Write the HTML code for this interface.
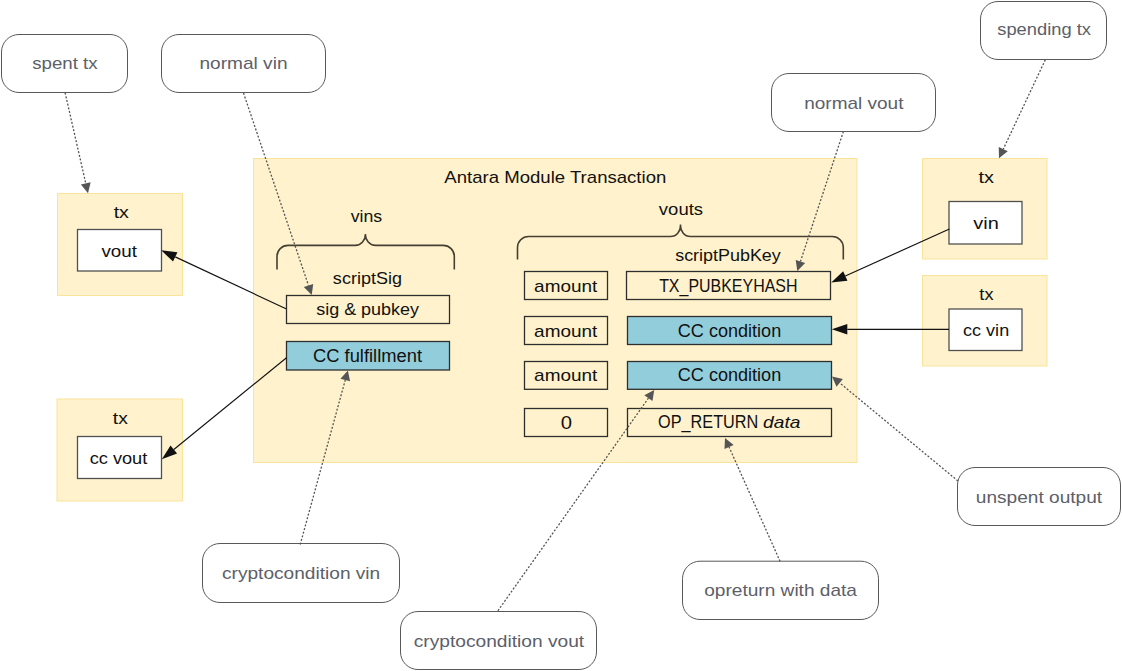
<!DOCTYPE html>
<html><head><meta charset="utf-8"><style>
html,body{margin:0;padding:0;background:#fff;}
svg{display:block;font-family:"Liberation Sans",sans-serif;}
</style></head><body>
<svg width="1122" height="671" viewBox="0 0 1122 671">
<rect width="1122" height="671" fill="#fff"/>
<rect x="1.5" y="34.5" width="126.0" height="58.0" rx="17.5" fill="#fff" stroke="#595959" stroke-width="1"/>
<text x="32.17" y="68.7" textLength="65.43" lengthAdjust="spacingAndGlyphs" fill="#5c6069" font-size="17" >spent tx</text>
<rect x="161.5" y="34.5" width="164.0" height="58.0" rx="17.5" fill="#fff" stroke="#595959" stroke-width="1"/>
<text x="199.49" y="69.4" textLength="88.04" lengthAdjust="spacingAndGlyphs" fill="#5c6069" font-size="17" >normal vin</text>
<rect x="771.5" y="73.5" width="164.0" height="58.0" rx="17.5" fill="#fff" stroke="#595959" stroke-width="1"/>
<text x="804.20" y="108.8" textLength="99.25" lengthAdjust="spacingAndGlyphs" fill="#5c6069" font-size="17" >normal vout</text>
<rect x="980.5" y="1.5" width="126.0" height="58.0" rx="17.5" fill="#fff" stroke="#595959" stroke-width="1"/>
<text x="997.28" y="35.4" textLength="93.64" lengthAdjust="spacingAndGlyphs" fill="#5c6069" font-size="17" >spending tx</text>
<rect x="957.5" y="467.5" width="163.0" height="58.0" rx="17.5" fill="#fff" stroke="#595959" stroke-width="1"/>
<text x="975.80" y="502.7" textLength="126.30" lengthAdjust="spacingAndGlyphs" fill="#5c6069" font-size="17" >unspent output</text>
<rect x="682.5" y="561.2" width="196.0" height="58.299999999999955" rx="17.5" fill="#fff" stroke="#595959" stroke-width="1"/>
<text x="704.24" y="595.5" textLength="152.75" lengthAdjust="spacingAndGlyphs" fill="#5c6069" font-size="17" >opreturn with data</text>
<rect x="202.5" y="543.5" width="197.0" height="59.0" rx="17.5" fill="#fff" stroke="#595959" stroke-width="1"/>
<text x="222.04" y="578.6" textLength="158.21" lengthAdjust="spacingAndGlyphs" fill="#5c6069" font-size="17" >cryptocondition vin</text>
<rect x="400.5" y="611.5" width="196.0" height="58.0" rx="17.5" fill="#fff" stroke="#595959" stroke-width="1"/>
<text x="413.73" y="646.9" textLength="170.43" lengthAdjust="spacingAndGlyphs" fill="#5c6069" font-size="17" >cryptocondition vout</text>
<rect x="253.5" y="158.5" width="603.5" height="304.0" rx="0" fill="#FFF2CC" stroke="#F9E49C" stroke-width="1"/>
<rect x="57.5" y="193.5" width="125.0" height="102.0" rx="0" fill="#FFF2CC" stroke="#F9E49C" stroke-width="1"/>
<rect x="57" y="399" width="125.5" height="102" rx="0" fill="#FFF2CC" stroke="#F9E49C" stroke-width="1"/>
<rect x="922.5" y="158.5" width="124.5" height="100.5" rx="0" fill="#FFF2CC" stroke="#F9E49C" stroke-width="1"/>
<rect x="922.5" y="275.5" width="124.5" height="90.5" rx="0" fill="#FFF2CC" stroke="#F9E49C" stroke-width="1"/>
<rect x="77.5" y="229.5" width="84.0" height="41.5" rx="0" fill="#fff" stroke="#505050" stroke-width="1.3"/>
<rect x="77.5" y="436.5" width="84.0" height="42.0" rx="0" fill="#fff" stroke="#505050" stroke-width="1.3"/>
<rect x="949" y="201.5" width="73" height="42.5" rx="0" fill="#fff" stroke="#505050" stroke-width="1.3"/>
<rect x="949" y="309" width="73" height="41.5" rx="0" fill="#fff" stroke="#505050" stroke-width="1.3"/>
<rect x="524.5" y="271.5" width="83.0" height="28.0" rx="0" fill="#FFF2CC" stroke="#2e2e2e" stroke-width="1.3"/>
<rect x="524.5" y="316.5" width="83.0" height="28.0" rx="0" fill="#FFF2CC" stroke="#2e2e2e" stroke-width="1.3"/>
<rect x="524.5" y="361.5" width="83.0" height="27.80000000000001" rx="0" fill="#FFF2CC" stroke="#2e2e2e" stroke-width="1.3"/>
<rect x="524.5" y="408.5" width="83.0" height="28.0" rx="0" fill="#FFF2CC" stroke="#2e2e2e" stroke-width="1.3"/>
<rect x="626.5" y="271.5" width="204.0" height="28.0" rx="0" fill="#FFF2CC" stroke="#2e2e2e" stroke-width="1.3"/>
<rect x="627.5" y="316.5" width="204.0" height="28.0" rx="0" fill="#92CDDC" stroke="#2e2e2e" stroke-width="1.3"/>
<rect x="627.5" y="361.5" width="204.0" height="27.80000000000001" rx="0" fill="#92CDDC" stroke="#2e2e2e" stroke-width="1.3"/>
<rect x="627.5" y="408.5" width="204.0" height="28.0" rx="0" fill="#FFF2CC" stroke="#2e2e2e" stroke-width="1.3"/>
<rect x="286.5" y="295.5" width="163.0" height="28.0" rx="0" fill="#FFF2CC" stroke="#2e2e2e" stroke-width="1.3"/>
<rect x="286.5" y="341.5" width="163.0" height="28.5" rx="0" fill="#92CDDC" stroke="#2e2e2e" stroke-width="1.3"/>
<path d="M277 269.6 V256.4 A11 11 0 0 1 288 245.4 H355.4 A10 11 0 0 0 365.4 234 A10 11 0 0 0 375.4 245.4 H443.3 A11 11 0 0 1 454.3 256.4 V269.6" fill="none" stroke="#463f33" stroke-width="1.6"/>
<path d="M517.5 259.5 V247.5 A11 11 0 0 1 528.5 236.5 H670.5 A10 11 0 0 0 680.5 224.5 A10 11 0 0 0 690.5 236.5 H832.3 A11 11 0 0 1 843.3 247.5 V259.5" fill="none" stroke="#463f33" stroke-width="1.6"/>
<text x="444.39" y="183" textLength="221.92" lengthAdjust="spacingAndGlyphs" fill="#111" font-size="17" >Antara Module Transaction</text>
<text x="350.70" y="221.7" textLength="31.53" lengthAdjust="spacingAndGlyphs" fill="#111" font-size="17" >vins</text>
<text x="658.89" y="215.3" textLength="44.17" lengthAdjust="spacingAndGlyphs" fill="#111" font-size="17" >vouts</text>
<text x="675.19" y="260.5" textLength="105.62" lengthAdjust="spacingAndGlyphs" fill="#111" font-size="17" >scriptPubKey</text>
<text x="332.89" y="284.1" textLength="69.05" lengthAdjust="spacingAndGlyphs" fill="#111" font-size="17" >scriptSig</text>
<text x="316.19" y="315.2" textLength="102.81" lengthAdjust="spacingAndGlyphs" fill="#111" font-size="17" >sig &amp; pubkey</text>
<text x="312.96" y="361.8" textLength="109.10" lengthAdjust="spacingAndGlyphs" fill="#111" font-size="17.5" >CC fulfillment</text>
<text x="534.14" y="291.7" textLength="63.24" lengthAdjust="spacingAndGlyphs" fill="#111" font-size="17" >amount</text>
<text x="534.14" y="336.5" textLength="63.24" lengthAdjust="spacingAndGlyphs" fill="#111" font-size="17" >amount</text>
<text x="534.14" y="381.3" textLength="63.24" lengthAdjust="spacingAndGlyphs" fill="#111" font-size="17" >amount</text>
<text x="560.79" y="429" textLength="11.26" lengthAdjust="spacingAndGlyphs" fill="#111" font-size="17.5" >0</text>
<text x="659.14" y="292" textLength="138.36" lengthAdjust="spacingAndGlyphs" fill="#111" font-size="17.5" >TX_PUBKEYHASH</text>
<text x="677.77" y="337.2" textLength="103.46" lengthAdjust="spacingAndGlyphs" fill="#111" font-size="17.5" >CC condition</text>
<text x="677.77" y="381.2" textLength="103.46" lengthAdjust="spacingAndGlyphs" fill="#111" font-size="17.5" >CC condition</text>
<text x="658.06" y="428.1" textLength="100.27" lengthAdjust="spacingAndGlyphs" fill="#111" font-size="17.5" >OP_RETURN</text>
<text x="763.14" y="428.1" textLength="37.28" lengthAdjust="spacingAndGlyphs" fill="#111" font-size="17" font-style="italic">data</text>
<text x="113.66" y="217.8" textLength="15.28" lengthAdjust="spacingAndGlyphs" fill="#111" font-size="17" >tx</text>
<text x="101.49" y="256.5" textLength="35.49" lengthAdjust="spacingAndGlyphs" fill="#111" font-size="17" >vout</text>
<text x="112.87" y="423.7" textLength="14.96" lengthAdjust="spacingAndGlyphs" fill="#111" font-size="17" >tx</text>
<text x="89.67" y="463.5" textLength="57.57" lengthAdjust="spacingAndGlyphs" fill="#111" font-size="17" >cc vout</text>
<text x="978.46" y="182.7" textLength="15.48" lengthAdjust="spacingAndGlyphs" fill="#111" font-size="17" >tx</text>
<text x="973.39" y="228.7" textLength="25.55" lengthAdjust="spacingAndGlyphs" fill="#111" font-size="17" >vin</text>
<text x="979.39" y="299.8" textLength="14.13" lengthAdjust="spacingAndGlyphs" fill="#111" font-size="17" >tx</text>
<text x="963.08" y="335.5" textLength="46.09" lengthAdjust="spacingAndGlyphs" fill="#111" font-size="17" >cc vin</text>
<line x1="65.1" y1="92.7" x2="85.78" y2="183.45" stroke="#555" stroke-width="1.3" stroke-dasharray="2 1.75"/>
<polygon points="88,193.2 80.90,184.56 90.65,182.34" fill="#555"/>
<line x1="243.5" y1="93" x2="308.50" y2="285.53" stroke="#555" stroke-width="1.3" stroke-dasharray="2 1.75"/>
<polygon points="311.7,295 303.76,287.12 313.24,283.93" fill="#555"/>
<line x1="843.4" y1="131.5" x2="800.44" y2="261.51" stroke="#555" stroke-width="1.3" stroke-dasharray="2 1.75"/>
<polygon points="797.3,271 795.69,259.94 805.19,263.07" fill="#555"/>
<line x1="1045.3" y1="59.8" x2="1003.26" y2="149.15" stroke="#555" stroke-width="1.3" stroke-dasharray="2 1.75"/>
<polygon points="999,158.2 998.73,147.02 1007.78,151.28" fill="#555"/>
<line x1="958" y1="481" x2="839.70" y2="382.88" stroke="#555" stroke-width="1.3" stroke-dasharray="2 1.75"/>
<polygon points="832,376.5 842.89,379.04 836.51,386.73" fill="#555"/>
<line x1="780.1" y1="561.4" x2="729.07" y2="447.03" stroke="#555" stroke-width="1.3" stroke-dasharray="2 1.75"/>
<polygon points="725,437.9 733.64,445.00 724.51,449.07" fill="#555"/>
<line x1="497.9" y1="610.8" x2="648.42" y2="398.16" stroke="#555" stroke-width="1.3" stroke-dasharray="2 1.75"/>
<polygon points="654.2,390 652.50,401.05 644.34,395.27" fill="#555"/>
<line x1="300.2" y1="544.5" x2="345.26" y2="380.04" stroke="#555" stroke-width="1.3" stroke-dasharray="2 1.75"/>
<polygon points="347.9,370.4 350.08,381.37 340.44,378.72" fill="#555"/>
<line x1="286" y1="308.8" x2="175.23" y2="256.88" stroke="#111" stroke-width="1.15"/>
<polygon points="161.2,250.3 177.44,252.17 173.03,261.59" fill="#111"/>
<line x1="286.5" y1="357.7" x2="173.82" y2="449.51" stroke="#111" stroke-width="1.15"/>
<polygon points="161.8,459.3 170.53,445.48 177.10,453.54" fill="#111"/>
<line x1="949.4" y1="229" x2="845.33" y2="276.02" stroke="#111" stroke-width="1.15"/>
<polygon points="831.2,282.4 843.18,271.28 847.47,280.76" fill="#111"/>
<line x1="949" y1="329.3" x2="847.30" y2="329.30" stroke="#111" stroke-width="1.15"/>
<polygon points="831.8,329.3 847.30,324.10 847.30,334.50" fill="#111"/>
</svg>
</body></html>
